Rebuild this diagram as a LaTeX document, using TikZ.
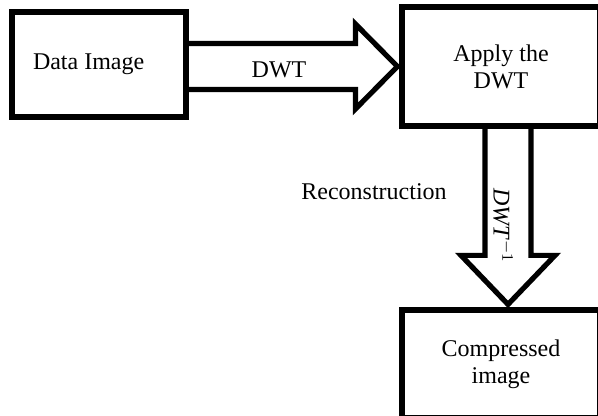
\documentclass[tikz,border=0pt]{standalone}
\usepackage{fontspec}
\setmainfont{Liberation Serif}
\usetikzlibrary{calc}

\tikzset{
  box/.style={draw, line width=2.6pt, align=center, inner sep=2pt,
    font=\fontsize{12}{13.5}\selectfont},
  bigarrow/.style={line width=2.6pt, line join=miter},
  lbl/.style={inner sep=0pt, font=\fontsize{12}{13.5}\selectfont}
}

\begin{document}
\begin{tikzpicture}[x=0.5pt,y=-0.5pt]
  \useasboundingbox (0,0) rectangle (598,416);
  % blocks
  \node[box, minimum width=87pt, minimum height=52.5pt, text width=66pt,
        inner xsep=10.5pt, align=flush left] (data) at (99,64.5) {Data Image};
  \node[box, minimum width=99pt, minimum height=59.5pt] (apply) at (501,66.5) {Apply the\\DWT};
  \node[box, minimum width=99pt, minimum height=54pt] (comp) at (501,364) {Compressed\\image};
  % forward transform
  \draw[bigarrow] let \p1=(data.east), \p2=(apply.west) in
      (\x1,\y2+11.5pt) -- (\x2-22pt,\y2+11.5pt) -- (\x2-22pt,\y2+21.25pt)
      -- (\x2-1pt,\y2) -- (\x2-22pt,\y2-21.25pt) -- (\x2-22pt,\y2-11.5pt)
      -- (\x1,\y2-11.5pt);
  % inverse transform
  \draw[bigarrow] let \p1=(apply.south), \p2=(comp.north) in
      (\x1-8pt,\y1) -- (\x1-8pt,\y2+26pt) -- (\x1-20pt,\y2+26pt)
      -- (\x1+3.5pt,\y2+1.5pt) -- (\x1+27pt,\y2+26pt) -- (\x1+15pt,\y2+26pt)
      -- (\x1+15pt,\y1);
  % labels
  \node[lbl] (dwt) at (279,70) {DWT};
  \node[lbl] (recon) at (374,192) {Reconstruction};
  \node[lbl, rotate=-90] (idwt) at (503,226) {\textit{DWT}$^{-1}$};
\end{tikzpicture}
\end{document}
